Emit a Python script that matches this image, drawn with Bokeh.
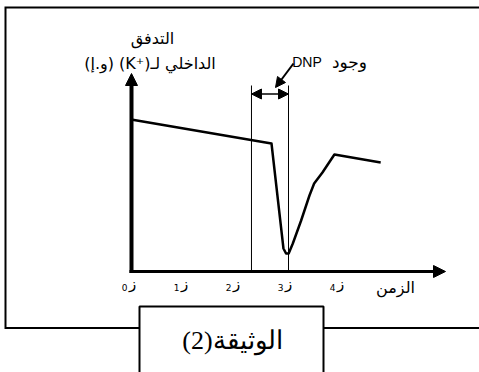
from bokeh.plotting import figure
from bokeh.models import Range1d, Arrow, NormalHead
from bokeh.core.properties import value
from bokeh.embed import file_html
from bokeh.resources import INLINE

# ---- data (time in units of ز, flux in arbitrary units) ----
tick_pos = [0, 1, 2, 3, 4]
tick_letter = "ز"
tick_digits = ["0", "1", "2", "3", "4"]
time = [0.05, 2.75, 2.98, 3.03, 3.08, 3.16, 3.32, 3.48, 3.57, 3.73, 3.96, 4.85]
flux = [15.2, 12.8, 2.3, 1.8, 1.8, 2.8, 5.1, 7.6, 8.8, 9.9, 11.7, 10.9]
dnp_start = 2.365
dnp_end = 3.077
dnp_top = 18.6
y_label_1 = "التدفق"
y_label_2 = "الداخلي لـ(K⁺\u200E) (و.إ)"
x_label = "الزمن"
dnp_label = "وجود"
dnp_name = "DNP"
caption = "الوثيقة(2)"

# ---- layout helpers (screen pixel -> data units) ----
W, H = 479, 372
X0, SX, Y0, SY = 128.0, 52.0, 271.0, 10.0


def px(x):
    return (x - X0) / SX


def py(y):
    return (Y0 - y) / SY


def rtl(s):
    return "\u202B" + s + "\u202C"


p = figure(width=W, height=H, output_backend="svg", toolbar_location=None,
           x_range=Range1d(px(0), px(W)),
           y_range=Range1d(py(H), py(0)),
           min_border=0, x_axis_location=None, y_axis_location=None,
           outline_line_color=None, background_fill_color="white",
           border_fill_color="white")
p.grid.visible = False

# outer frame
p.line([px(490), px(5), px(5), px(139)], [py(7), py(7), py(327.5), py(327.5)],
       line_color="black", line_width=2, line_join="miter")
p.line([px(323), px(490)], [py(327.5), py(327.5)], line_color="black", line_width=2)

# caption box
p.quad(left=[px(139)], right=[px(323)], top=[py(306)], bottom=[py(390)],
       fill_color="white", line_color="black", line_width=2)
p.text(x=[px(232)], y=[py(340)], text=[rtl(caption)],
       text_font=value("Liberation Serif"), text_font_size="26px",
       text_align="center", text_baseline="middle", text_color="black")

# DNP interval lines
p.segment(x0=[dnp_start, dnp_end], y0=[0, 0], x1=[dnp_start, dnp_end], y1=[dnp_top, dnp_top],
          line_color="black", line_width=1)

# curve
p.line(time, flux, line_color="black", line_width=2.5, line_join="round")

# axes as arrows
p.add_layout(Arrow(x_start=px(131), y_start=py(272.5), x_end=px(131), y_end=py(73),
                   line_width=4, line_color="black",
                   end=NormalHead(size=12, fill_color="black", line_color="black", line_width=1)))
p.add_layout(Arrow(x_start=px(129), y_start=0, x_end=px(445), y_end=0,
                   line_width=3, line_color="black",
                   end=NormalHead(size=12, fill_color="black", line_color="black", line_width=1)))

# double arrow for DNP presence
p.add_layout(Arrow(x_start=dnp_start, y_start=py(93.5), x_end=dnp_end, y_end=py(93.5),
                   line_width=1.5, line_color="black",
                   start=NormalHead(size=10, fill_color="black", line_color="black", line_width=1),
                   end=NormalHead(size=10, fill_color="black", line_color="black", line_width=1)))
# pointer from label
p.add_layout(Arrow(x_start=px(293), y_start=py(63), x_end=px(275), y_end=py(87),
                   line_width=2, line_color="black",
                   end=NormalHead(size=10, fill_color="black", line_color="black", line_width=1)))

font = value("DejaVu Sans")
# tick labels: letter + subscript digit on its left
p.text(x=tick_pos, y=[py(283)] * len(tick_pos), text=[tick_letter] * len(tick_pos),
       text_font=font, text_font_size="15px", text_align="center", x_offset=4,
       text_baseline="middle", text_color="black")
p.text(x=tick_pos, y=[py(287)] * len(tick_pos), text=tick_digits,
       text_font=font, text_font_size="9px", text_align="center", x_offset=-4,
       text_baseline="middle", text_color="black")
# other labels
p.text(x=[px(395), px(152), px(149.5)],
       y=[py(287), py(38), py(63)],
       text=[rtl(x_label), rtl(y_label_1), rtl(y_label_2)],
       text_font=font, text_font_size="16px", text_align="center",
       text_baseline="middle", text_color="black")
p.text(x=[px(349)], y=[py(61)], text=[rtl(dnp_label)],
       text_font=font, text_font_size="17px", text_align="center",
       text_baseline="middle", text_color="black")
p.text(x=[px(306.5)], y=[py(61)], text=[dnp_name],
       text_font=value("Liberation Sans"), text_font_size="14px", text_align="center",
       text_baseline="middle", text_color="black")

open("out.html", "w").write(file_html(p, INLINE))
